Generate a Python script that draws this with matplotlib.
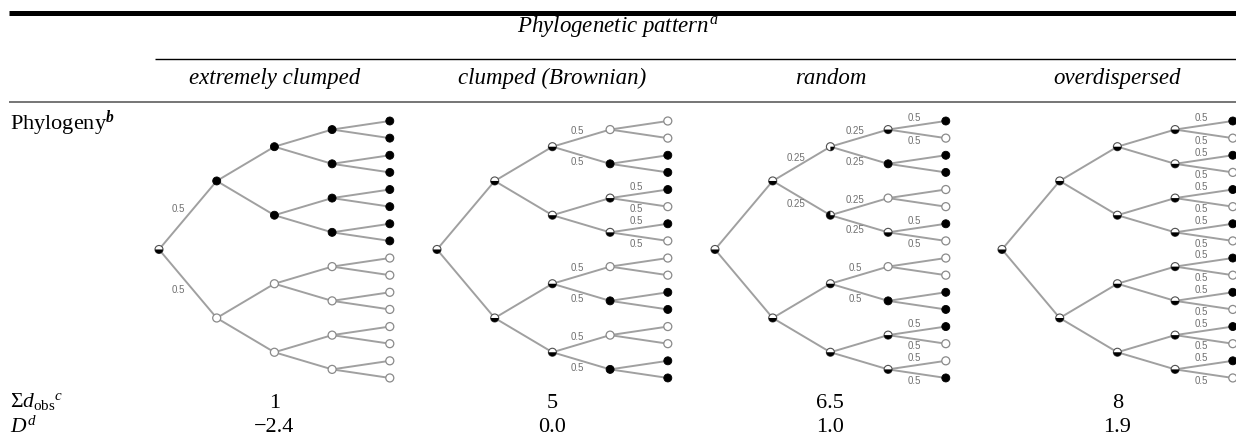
import matplotlib
matplotlib.use("Agg")
import matplotlib.pyplot as plt
from matplotlib.patches import Circle, Wedge

plt.rcParams['font.family'] = ['Liberation Serif', 'DejaVu Serif']
plt.rcParams['mathtext.fontset'] = 'custom'
plt.rcParams['mathtext.rm'] = 'Liberation Serif'
plt.rcParams['mathtext.it'] = 'Liberation Serif:italic'
plt.rcParams['mathtext.bf'] = 'Liberation Serif:bold'
plt.rcParams['mathtext.bfit'] = 'Liberation Serif:bold:italic'

# column headers and the two result rows
patterns = ['extremely clumped', 'clumped (Brownian)', 'random', 'overdispersed']
sum_dobs = ['1', '5', '6.5', '8']
d_stat = ['\u22122.4', '0.0', '1.0', '1.9']

# share of black in every node, per level (root first), top to bottom
states_ext = [
    [0.5],
    [1, 0],
    [1, 1, 0, 0],
    [1, 1, 1, 1, 0, 0, 0, 0],
    [1, 1, 1, 1, 1, 1, 1, 1, 0, 0, 0, 0, 0, 0, 0, 0],
]
states_brown = [
    [0.5],
    [0.5, 0.5],
    [0.5, 0.5, 0.5, 0.5],
    [0, 1, 0.5, 0.5, 0, 1, 0, 1],
    [0, 0, 1, 1, 1, 0, 1, 0, 0, 0, 1, 1, 0, 0, 1, 1],
]
states_random = [
    [0.5],
    [0.5, 0.5],
    [0.25, 0.75, 0.5, 0.5],
    [0.5, 1, 0, 0.5, 0, 1, 0.5, 0.5],
    [1, 0, 1, 1, 0, 0, 1, 0, 0, 0, 1, 1, 1, 0, 0, 1],
]
states_over = [
    [0.5],
    [0.5, 0.5],
    [0.5, 0.5, 0.5, 0.5],
    [0.5, 0.5, 0.5, 0.5, 0.5, 0.5, 0.5, 0.5],
    [1, 0, 1, 0, 1, 0, 1, 0, 1, 0, 1, 0, 1, 0, 1, 0],
]

# branch labels: (level of the child node, child indices, text)
labels_ext = [(1, [0, 1], '0.5')]
labels_brown = [(3, [0, 1, 4, 5, 6, 7], '0.5'), (4, [4, 5, 6, 7], '0.5')]
labels_random = [(2, [0, 1], '0.25'), (3, [0, 1, 2, 3], '0.25'),
                 (3, [4, 5], '0.5'), (4, [0, 1, 6, 7, 12, 13, 14, 15], '0.5')]
labels_over = [(4, list(range(16)), '0.5')]

trees = [(states_ext, labels_ext), (states_brown, labels_brown),
         (states_random, labels_random), (states_over, labels_over)]

root_x = [159, 437, 715, 1002]
step_x = 57.7
tip_top = 121
tip_gap = 17.13
r = 4.0
line_col = '#a0a0a0'

fig = plt.figure(figsize=(12.36, 4.41), dpi=100)
ax = fig.add_axes([0, 0, 1, 1])
ax.set_xlim(0, 1236)
ax.set_ylim(441, 0)
ax.axis('off')


def node_y(n_levels):
    ys = [[tip_top + i * tip_gap for i in range(2 ** (n_levels - 1))]]
    for _ in range(n_levels - 1):
        prev = ys[0]
        ys.insert(0, [(prev[2 * i] + prev[2 * i + 1]) / 2 for i in range(len(prev) // 2)])
    return ys


def draw_node(x, y, f):
    if f == 0:
        ax.add_patch(Circle((x, y), r, fc='white', ec='#8a8a8a', lw=0.9, zorder=3))
    elif f == 1:
        ax.add_patch(Circle((x, y), r, fc='black', ec='black', lw=0.6, zorder=3))
    else:
        ax.add_patch(Circle((x, y), r, fc='white', ec='#505050', lw=0.8, zorder=3))
        ax.add_patch(Wedge((x, y), r, 0, 360 * f, fc='black', ec='none', zorder=4))


for t, (states, labels) in enumerate(trees):
    ys = node_y(len(states))
    xs = [root_x[t] + l * step_x for l in range(len(states))]
    for l in range(1, len(states)):
        for i in range(len(states[l])):
            ax.plot([xs[l - 1], xs[l]], [ys[l - 1][i // 2], ys[l][i]],
                    color=line_col, lw=1.4, zorder=1, solid_capstyle='round')
    for l in range(len(states)):
        for i, f in enumerate(states[l]):
            draw_node(xs[l], ys[l][i], f)
    for l, idx, txt in labels:
        for i in idx:
            x0, y0 = xs[l - 1], ys[l - 1][i // 2]
            x1, y1 = xs[l], ys[l][i]
            dx, dy = x1 - x0, y1 - y0
            ln = (dx ** 2 + dy ** 2) ** 0.5
            if i % 2 == 0:
                nx, ny = dy / ln, -dx / ln
            else:
                nx, ny = -dy / ln, dx / ln
            off = 10 if l == 1 else 7
            ax.text((x0 + x1) / 2 + nx * off - 2, (y0 + y1) / 2 + ny * off, txt,
                    fontsize=7, family='Liberation Sans', color='#707070',
                    ha='center', va='center', zorder=5)

# rules of the table
ax.plot([9, 1236], [12.5, 12.5], color='black', lw=3.6, solid_capstyle='butt')
ax.plot([155, 1236], [59, 59], color='black', lw=1.0, solid_capstyle='butt')
ax.plot([9, 1236], [102, 102], color='#505050', lw=1.1, solid_capstyle='butt')

ax.text(618, 32, r'$Phylogenetic\ pattern^{a}$', fontsize=16.5, ha='center', va='baseline')
col_x = [x + 2 * step_x for x in root_x]
for cx, name in zip(col_x, patterns):
    ax.text(cx, 84, name, fontsize=16.5, style='italic', ha='center', va='baseline')

ax.text(10, 130, r'Phylogeny$^{\mathbfit{b}}$', fontsize=16, ha='left', va='baseline')
ax.text(10, 407, r'$\Sigma d_{\mathrm{obs}}{}^{c}$', fontsize=15.5, ha='left', va='baseline')
ax.text(10, 433, r'$D^{d}$', fontsize=15.5, ha='left', va='baseline')
for cx, s, d in zip(col_x, sum_dobs, d_stat):
    ax.text(cx, 408, s, fontsize=16, ha='center', va='baseline')
    ax.text(cx, 432, d, fontsize=16, ha='center', va='baseline')

fig.savefig('out.png', dpi=100)
